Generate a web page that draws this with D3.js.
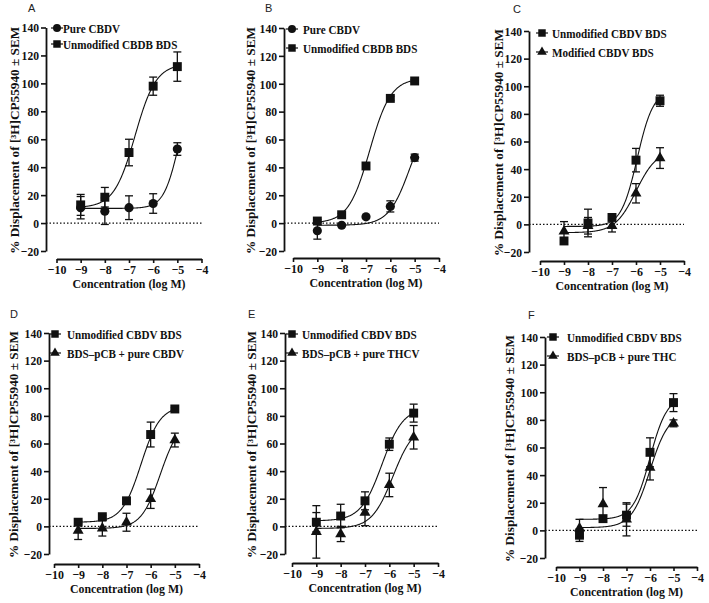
<!DOCTYPE html>
<html>
<head>
<meta charset="utf-8">
<script src="https://cdn.jsdelivr.net/npm/d3@7"></script>
<style>
  body { margin: 0; background: #fff; }
  svg { display: block; }
</style>
</head>
<body>
<svg id="chart" width="709" height="603"></svg>
<script>
// Concentrations (log M) and axis ticks
const conc = [-9, -8, -7, -6, -5];
const xTicks = [-10, -9, -8, -7, -6, -5, -4];
const yTicks = [-20, 0, 20, 40, 60, 80, 100, 120, 140];

// Panel A
const aPure = [11, 8.5, 11, 14, 53];
const aPureSem = [8, 9.5, 8.5, 7, 4.5];
const aPureFit = [10.5, 100, -4.95, 1.4]; // bottom, top, logEC50, hill
const aUnmod = [13, 18.5, 50.5, 98, 112];
const aUnmodSem = [7.5, 7, 9.5, 6.5, 10.5];
const aUnmodFit = [11, 114, -6.75, 1];

// Panel B
const bPure = [-5.5, -1.5, 4.5, 12, 47];
const bPureSem = [6, 0.5, 1, 4, 2.5];
const bPureFit = [-1.5, 80, -5.2, 1];
const bUnmod = [1.5, 6, 41, 89.5, 102];
const bUnmodSem = [1, 1, 1.5, 1.5, 1];
const bUnmodFit = [0, 104, -6.85, 1];

// Panel C
const cUnmod = [-12, 1, 5, 46.5, 89.5];
const cUnmodSem = [1, 10, 1.5, 8.5, 4];
const cUnmodFit = [-1.5, 97, -5.95, 1.3];
const cMod = [-5, -1, -1, 22.5, 48];
const cModSem = [7, 6, 4.5, 7, 7.5];
const cModFit = [-6, 54, -6, 1];

// Panel D
const dUnmod = [3, 7, 18.5, 66.5, 85];
const dUnmodSem = [1, 1, 1.5, 9, 1];
const dUnmodFit = [3, 87, -6.4, 1.1];
const dMix = [-3, -1.5, 3, 20, 62.5];
const dMixSem = [6.5, 5.5, 6.5, 7, 5];
const dMixFit = [-1.5, 77, -5.6, 1.1];

// Panel E
const eUnmod = [3, 7.5, 18.5, 59.5, 82];
const eUnmodSem = [7, 8.5, 6.5, 4.5, 6.5];
const eUnmodFit = [4, 86, -6.3, 1];
const eMix = [-4, -5.5, 10, 30, 64.5];
const eMixSem = [19, 5.5, 9.5, 8.5, 8.5];
const eMixFit = [-1.5, 74, -5.85, 1];

// Panel F
const fUnmod = [-3.5, 8.5, 11, 56.5, 92.5];
const fUnmodSem = [4.5, 2, 8, 10.5, 6.5];
const fUnmodFit = [8, 97, -6, 1.2];
const fMix = [1.5, 19, 8, 45.5, 77.5];
const fMixSem = [6.5, 12, 12, 9, 2.5];
const fMixFit = [2, 85, -6, 1.1];

const panels = [
  { letter: "A", lx: 28, ly: 12, ax: 46, yTop: 27.5, yBot: 251, xAxisY: 259, x0: 56.5, x1: 201.5, titleX: 18.5,
    legX: 57, legTx: 63, legY: [28, 44],
    series: [
      { name: "Pure CBDV", shape: "circle", values: aPure, sem: aPureSem, fit: aPureFit },
      { name: "Unmodified CBDB BDS", shape: "square", values: aUnmod, sem: aUnmodSem, fit: aUnmodFit }
    ] },
  { letter: "B", lx: 265, ly: 12, ax: 284, yTop: 28, yBot: 251, xAxisY: 258, x0: 293, x1: 439, titleX: 255,
    legX: 292, legTx: 303, legY: [29, 48],
    series: [
      { name: "Pure CBDV", shape: "circle", values: bPure, sem: bPureSem, fit: bPureFit },
      { name: "Unmodified CBDB BDS", shape: "square", values: bUnmod, sem: bUnmodSem, fit: bUnmodFit }
    ] },
  { letter: "C", lx: 513, ly: 13, ax: 529, yTop: 31, yBot: 252, xAxisY: 261, x0: 540, x1: 684, titleX: 503,
    legX: 542, legTx: 552, legY: [33, 52],
    series: [
      { name: "Unmodified CBDV BDS", shape: "square", values: cUnmod, sem: cUnmodSem, fit: cUnmodFit },
      { name: "Modified CBDV BDS", shape: "triangle", values: cMod, sem: cModSem, fit: cModFit }
    ] },
  { letter: "D", lx: 10, ly: 318, ax: 49, yTop: 333, yBot: 554, xAxisY: 564, x0: 54, x1: 199, titleX: 18,
    legX: 55, legTx: 67, legY: [334, 353],
    series: [
      { name: "Unmodified CBDV BDS", shape: "square", values: dUnmod, sem: dUnmodSem, fit: dUnmodFit },
      { name: "BDS\u2013pCB + pure CBDV", shape: "triangle", values: dMix, sem: dMixSem, fit: dMixFit }
    ] },
  { letter: "E", lx: 248, ly: 318, ax: 285, yTop: 333, yBot: 554, xAxisY: 563, x0: 292, x1: 438, titleX: 256,
    legX: 292, legTx: 302, legY: [334, 353],
    series: [
      { name: "Unmodified CBDV BDS", shape: "square", values: eUnmod, sem: eUnmodSem, fit: eUnmodFit },
      { name: "BDS\u2013pCB + pure THCV", shape: "triangle", values: eMix, sem: eMixSem, fit: eMixFit }
    ] },
  { letter: "F", lx: 528, ly: 319, ax: 545, yTop: 337, yBot: 558, xAxisY: 567, x0: 556, x1: 697, titleX: 514,
    legX: 553, legTx: 567, legY: [337, 356],
    series: [
      { name: "Unmodified CBDV BDS", shape: "square", values: fUnmod, sem: fUnmodSem, fit: fUnmodFit },
      { name: "BDS\u2013pCB + pure THC", shape: "triangle", values: fMix, sem: fMixSem, fit: fMixFit }
    ] }
];

const serif = "'Liberation Serif', 'Times New Roman', serif";
const ink = "#111";
const intFmt = d3.format("d");

const symbolFor = {
  circle: d3.symbol().type(d3.symbolCircle).size(66),
  square: d3.symbol().type(d3.symbolSquare).size(80),
  triangle: d3.symbol().type(d3.symbolTriangle).size(52)
};
const legendSymbol = {
  circle: d3.symbol().type(d3.symbolCircle).size(50),
  square: d3.symbol().type(d3.symbolSquare).size(56),
  triangle: d3.symbol().type(d3.symbolTriangle).size(40)
};

// four-parameter logistic used for the fitted curves
function logistic(p, x) {
  return p[0] + (p[1] - p[0]) / (1 + Math.pow(10, (p[2] - x) * p[3]));
}

const svg = d3.select("#chart");

panels.forEach(p => {
  const g = svg.append("g");
  const x = d3.scaleLinear().domain([-10, -4]).range([p.x0, p.x1]);
  const y = d3.scaleLinear().domain([-20, 140]).range([p.yBot, p.yTop]);

  // dotted zero line
  g.append("line")
    .attr("x1", p.ax).attr("x2", x(-4))
    .attr("y1", y(0)).attr("y2", y(0))
    .attr("stroke", ink).attr("stroke-width", 1.2)
    .attr("stroke-dasharray", "1.5,2");

  // fitted curves
  const xs = d3.range(-9, -4.995, 0.02);
  p.series.forEach(ser => {
    const line = d3.line().x(d => x(d)).y(d => y(logistic(ser.fit, d)));
    g.append("path")
      .attr("d", line(xs))
      .attr("fill", "none")
      .attr("stroke", ink)
      .attr("stroke-width", 1.1);
  });

  // error bars and markers
  p.series.forEach(ser => {
    conc.forEach((c, i) => {
      const cx = x(c), lo = y(ser.values[i] - ser.sem[i]), hi = y(ser.values[i] + ser.sem[i]);
      g.append("line").attr("x1", cx).attr("x2", cx).attr("y1", lo).attr("y2", hi)
        .attr("stroke", ink).attr("stroke-width", 1.3);
      [lo, hi].forEach(yy => {
        g.append("line").attr("x1", cx - 4).attr("x2", cx + 4).attr("y1", yy).attr("y2", yy)
          .attr("stroke", ink).attr("stroke-width", 1.3);
      });
    });
    g.selectAll(null)
      .data(conc.map((c, i) => [c, ser.values[i]]))
      .enter()
      .append("path")
      .attr("d", symbolFor[ser.shape])
      .attr("transform", d => `translate(${x(d[0])},${y(d[1])})`)
      .attr("fill", ink);
  });

  // y axis
  const yAxis = g.append("g")
    .attr("transform", `translate(${p.ax},0)`)
    .call(d3.axisLeft(y).tickValues(yTicks).tickFormat(intFmt).tickSize(5).tickSizeOuter(0).tickPadding(2));
  // x axis
  const xAxis = g.append("g")
    .attr("transform", `translate(0,${p.xAxisY})`)
    .call(d3.axisBottom(x).tickValues(xTicks).tickFormat(intFmt).tickSize(4).tickSizeOuter(0).tickPadding(2));

  [yAxis, xAxis].forEach(a => {
    a.select(".domain").attr("stroke", ink).attr("stroke-width", 1.8);
    a.selectAll(".tick line").attr("stroke", ink).attr("stroke-width", 1.6);
    a.selectAll(".tick text")
      .attr("fill", ink)
      .style("font-family", serif)
      .style("font-weight", "bold")
      .style("font-size", "13.5px");
  });
  yAxis.selectAll(".tick text")
    .attr("x", -7 / 0.86)
    .attr("transform", "scale(0.86,1)");
  xAxis.selectAll(".tick text")
    .style("font-size", "13px")
    .attr("transform", "scale(0.92,1)");

  // axis titles
  g.append("text")
    .attr("x", (p.x0 + p.x1) / 2).attr("y", p.xAxisY + 29)
    .attr("text-anchor", "middle")
    .attr("textLength", 113).attr("lengthAdjust", "spacingAndGlyphs")
    .style("font-family", serif).style("font-weight", "bold").style("font-size", "13px")
    .attr("fill", ink)
    .text("Concentration (log M)");

  g.append("text")
    .attr("transform", `translate(${p.titleX},${(p.yTop + p.yBot) / 2 + 1}) rotate(-90)`)
    .attr("text-anchor", "middle")
    .attr("textLength", 227).attr("lengthAdjust", "spacingAndGlyphs")
    .style("font-family", serif).style("font-weight", "bold").style("font-size", "13px")
    .attr("fill", ink)
    .text("% Displacement of [\u00B3H]CP55940 \u00B1 SEM");

  // panel letter
  g.append("text")
    .attr("x", p.lx).attr("y", p.ly)
    .style("font-family", "'Liberation Sans', Arial, sans-serif")
    .style("font-size", "11px")
    .attr("fill", "#222")
    .text(p.letter);

  // legend
  p.series.forEach((ser, i) => {
    const ly = p.legY[i];
    g.append("line")
      .attr("x1", p.legX - 6).attr("x2", p.legX + 6)
      .attr("y1", ly).attr("y2", ly)
      .attr("stroke", ink).attr("stroke-width", 1.2);
    g.append("path")
      .attr("d", legendSymbol[ser.shape])
      .attr("transform", `translate(${p.legX},${ly})`)
      .attr("fill", ink);
    g.append("text")
      .attr("transform", `translate(${p.legTx},${ly + 4.5}) scale(0.89,1)`)
      .style("font-family", serif).style("font-weight", "bold").style("font-size", "12.5px")
      .attr("fill", ink)
      .text(ser.name);
  });
});
</script>
</body>
</html>
